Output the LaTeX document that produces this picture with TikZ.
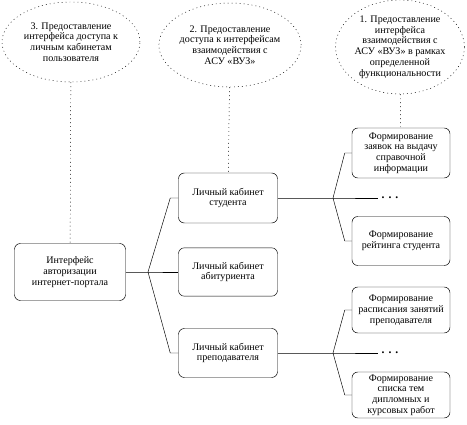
\documentclass[tikz,border=0pt]{standalone}
\usepackage{fontspec}
\setmainfont{Liberation Serif}
\usetikzlibrary{positioning,shapes.geometric}

\begin{document}
\begin{tikzpicture}[
            x=0.03cm, y=-0.03cm,
            box/.style={
                draw,
                rounded corners=5pt,
                align=center,
                inner sep=1pt,
                font=\fontsize{8.6}{9.2}\selectfont
            },
            goal/.style={
                ellipse,
                draw,
                dash pattern=on 0.8pt off 2.6pt,
                align=center,
                inner sep=0pt,
                font=\fontsize{8.6}{9.2}\selectfont
            },
            link/.style={thin},
            hint/.style={dash pattern=on 0.8pt off 2.6pt}
        ]

        \useasboundingbox (0,0) rectangle (467,425);

        % цели
        \node[goal, minimum width=4.14cm, minimum height=2.4cm] (goal3) at (71,42)
            {3. Предоставление\\интерфейса доступа к\\личным кабинетам\\пользователя};
        \node[goal, minimum width=4.2cm, minimum height=2.52cm] (goal2) at (230,45)
            {2. Предоставление\\доступа к интерфейсам\\взаимодействия с\\АСУ «ВУЗ»};
        \node[goal, minimum width=3.72cm, minimum height=2.82cm] (goal1) at (400,47)
            {1. Предоставление\\интерфейса\\взаимодействия с\\АСУ «ВУЗ» в рамках\\определенной\\функциональности};

        % интерфейсы
        \node[box, minimum width=3.33cm, minimum height=1.71cm] (auth) at (70,272)
            {Интерфейс\\авторизации\\интернет-портала};
        \node[box, minimum width=2.97cm, minimum height=1.5cm] (student) at (228,198)
            {Личный кабинет\\студента};
        \node[box, minimum width=2.97cm, minimum height=1.45cm] (abitur) at (228,272)
            {Личный кабинет\\абитуриента};
        \node[box, minimum width=2.97cm, minimum height=1.47cm] (teacher) at (228,353)
            {Личный кабинет\\преподавателя};

        % функции
        \node[box, minimum width=2.94cm, minimum height=1.5cm] (request) at (401,153)
            {Формирование\\заявок на выдачу\\справочной\\информации};
        \node[box, minimum width=2.94cm, minimum height=1.47cm] (rating) at (401,241)
            {Формирование\\рейтинга студента};
        \node[box, minimum width=2.94cm, minimum height=1.38cm] (schedule) at (401,310)
            {Формирование\\расписания занятий\\преподавателя};
        \node[box, minimum width=2.94cm, minimum height=1.38cm] (themes) at (401,395)
            {Формирование\\списка тем\\дипломных и\\курсовых работ};

        \node[inner sep=0pt, font=\bfseries] (moreS) at (390,198) {. . .};
        \node[inner sep=0pt, font=\bfseries] (moreT) at (390,353) {. . .};

        % разветвления
        \coordinate (forkA) at (148,272);
        \coordinate (forkS) at (333,198);
        \coordinate (forkT) at (333,353);

        \draw[link] (auth) -- (forkA) -- (abitur);
        \draw[link] (forkA) -- ([xshift=-0.24cm]student.west) -- (student.west);
        \draw[link] (forkA) -- ([xshift=-0.24cm]teacher.west) -- (teacher.west);

        \draw[link] (student) -- (forkS) -- ([xshift=-3pt]moreS.west);
        \draw[link] (forkS) -- ([xshift=-0.21cm]request.west) -- (request.west);
        \draw[link] (forkS) -- ([xshift=-0.21cm]rating.west) -- (rating.west);

        \draw[link] (teacher) -- (forkT) -- ([xshift=-3pt]moreT.west);
        \draw[link] (forkT) -- ([xshift=-0.21cm]schedule.west) -- (schedule.west);
        \draw[link] (forkT) -- ([xshift=-0.21cm]themes.west) -- (themes.west);

        % связи с целями
        \draw[hint] (goal3) -- (auth);
        \draw[hint] (goal2) -- (student);
        \draw[hint] (goal1) -- (request);

        \end{tikzpicture}
\end{document}
